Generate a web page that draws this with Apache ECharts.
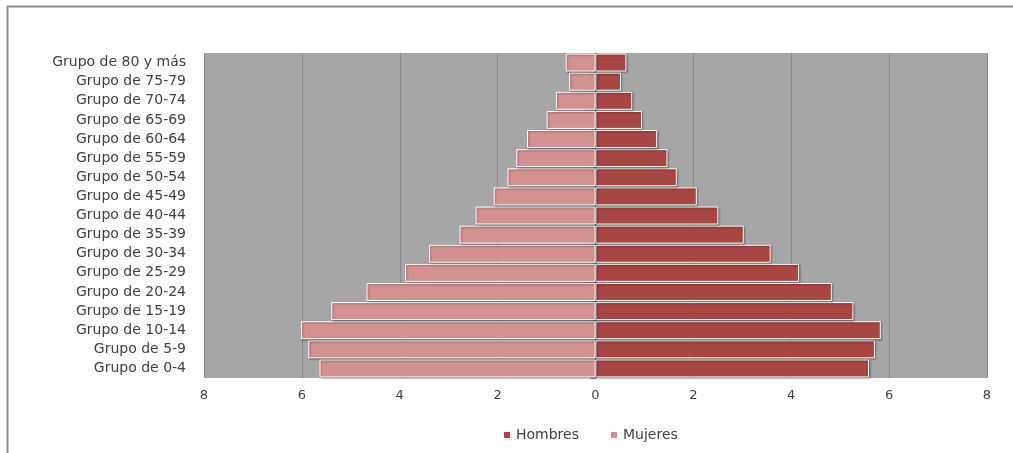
<!DOCTYPE html>
<html>
<head>
<meta charset="utf-8">
<script src="https://cdn.jsdelivr.net/npm/echarts@6/dist/echarts.min.js"></script>
<style>
html,body{margin:0;padding:0;background:#fff;}
#chart{width:1013px;height:453px;}
</style>
</head>
<body>
<div id="chart"></div>
<script>
// Categories from bottom to top
var categories = ['Grupo de 0-4','Grupo de 5-9','Grupo de 10-14','Grupo de 15-19','Grupo de 20-24','Grupo de 25-29','Grupo de 30-34','Grupo de 35-39','Grupo de 40-44','Grupo de 45-49','Grupo de 50-54','Grupo de 55-59','Grupo de 60-64','Grupo de 65-69','Grupo de 70-74','Grupo de 75-79','Grupo de 80 y más'];
var hombres = [5.59,5.71,5.83,5.27,4.83,4.16,3.58,3.03,2.51,2.07,1.66,1.47,1.26,0.95,0.75,0.52,0.63];
var mujeres = [5.64,5.87,6.02,5.40,4.68,3.89,3.40,2.78,2.45,2.08,1.80,1.62,1.40,1.00,0.81,0.54,0.61];
var xTicks = [-8,-6,-4,-2,0,2,4,6,8];

var FONT = 'DejaVu Sans';
var chart = echarts.init(document.getElementById('chart'), null, {renderer:'canvas'});
var barStyle = function(c){
  return {color:c, borderColor:'#ffffff', borderWidth:1, shadowColor:'rgba(0,0,0,0.35)', shadowBlur:2, shadowOffsetX:1, shadowOffsetY:1};
};
chart.setOption({
  animation:false,
  backgroundColor:'#ffffff',
  textStyle:{fontFamily:FONT},
  graphic:[{
    type:'polyline', silent:true,
    shape:{points:[[7.5,453],[7.5,6.5],[1013,6.5]]},
    style:{stroke:'#8c8c8c', lineWidth:2, fill:null}
  }],
  legend:{
    bottom:6, left:497,
    itemWidth:8, itemHeight:8, itemGap:30, icon:'rect',
    textStyle:{fontFamily:FONT, fontSize:14, color:'#404040'},
    data:['Hombres','Mujeres']
  },
  grid:{left:204, right:26, top:53, bottom:75, show:true, backgroundColor:'#a6a6a6', borderWidth:0},
  xAxis:{
    type:'value', min:xTicks[0], max:xTicks[xTicks.length-1], interval:2,
    axisLine:{show:false}, axisTick:{show:false},
    splitLine:{show:true, lineStyle:{color:'#888888', width:1}},
    axisLabel:{margin:11, fontSize:13, color:'#404040', fontFamily:FONT, formatter:function(v){return Math.abs(v);}}
  },
  yAxis:[{
    type:'category', data:categories, position:'left',
    axisLine:{show:false, onZero:false}, axisTick:{show:false},
    axisLabel:{margin:18, fontSize:14, color:'#404040', fontFamily:FONT}
  },{
    type:'category', data:categories, position:'left',
    axisLine:{show:true, onZero:true, lineStyle:{color:'#8c8c8c', width:1.5}},
    axisTick:{show:true, length:5, lineStyle:{color:'#8c8c8c'}},
    axisLabel:{show:false}
  }],
  series:[{
    name:'Hombres', type:'bar', stack:'pop', yAxisIndex:0,
    barCategoryGap:'6%', data:hombres, itemStyle:barStyle('#a84644')
  },{
    name:'Mujeres', type:'bar', stack:'pop', yAxisIndex:0,
    barCategoryGap:'6%', data:mujeres.map(function(v){return -v;}), itemStyle:barStyle('#d39291')
  }]
});
</script>
</body>
</html>
